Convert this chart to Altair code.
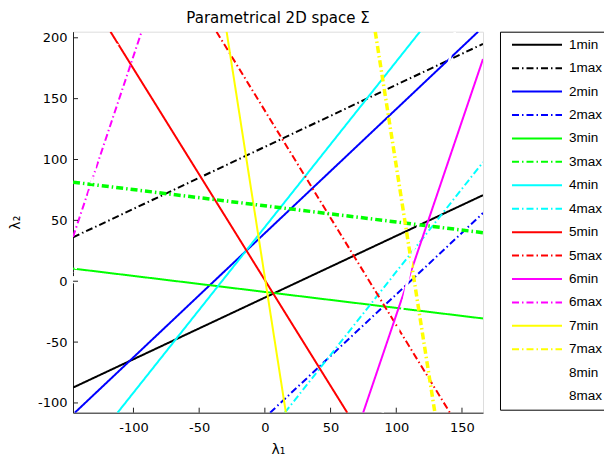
import altair as alt
import pandas as pd

names = ["1min", "1max", "2min", "2max", "3min", "3max", "4min", "4max",
         "5min", "5max", "6min", "6max", "7min", "7max", "8min", "8max"]
colors = ["#000000", "#000000", "#0000ff", "#0000ff", "#00ff00", "#00ff00",
          "#00ffff", "#00ffff", "#ff0000", "#ff0000", "#ff00ff", "#ff00ff",
          "#ffff00", "#ffff00", "#ffffff", "#ffffff"]
x_start = [-146, -146, -144.6, 4.0, -146, -146, -112.1, 15.2,
           -117.5, -36.8, 74.8, -146, -29.1, 84.0, 89.6, -146]
y_start = [-87.4, 36.0, -108, -108, 10.4, 81.4, -108, -108,
           205, 205, -108, 36.3, 205, 205, -108, -1.6]
x_end = [166, 166, 162.3, 166, 166, 166, 118.0, 166,
         62.7, 140.8, 166, -93.8, 16.0, 129.4, 144.6, -110.4]
y_end = [70.7, 195.0, 205, 56.0, -30.6, 39.9, 205, 97.8,
         -108, -108, 182.5, 205, -108, -108, 205, 205]
thick = ["3max", "7max"]
white = ["8min", "8max"]

x_ticks = [-100, -50, 0, 50, 100, 150]
y_ticks = [-100, -50, 0, 50, 100, 150, 200]
x_domain = [-146, 166]
y_domain = [-108, 205]

dashes = [[1, 0] if n.endswith("min") else [7, 3, 1.5, 3] for n in names]

rows = []
for n, xs, ys, xe, ye in zip(names, x_start, y_start, x_end, y_end):
    rows.append({"series": n, "x": xs, "y": ys, "o": 0})
    rows.append({"series": n, "x": xe, "y": ye, "o": 1})
df = pd.DataFrame(rows)

W, H = 410, 381
FONT = "DejaVu Sans"
LFONT = "Liberation Sans"
MINUS = "replace(datum.label, '\u2212', '-')"

xs = alt.Scale(domain=x_domain, nice=False, zero=False)
ys = alt.Scale(domain=y_domain, nice=False, zero=False)

color = alt.Color("series:N", scale=alt.Scale(domain=names, range=colors),
                  title=None,
                  legend=alt.Legend(orient="right", offset=17, symbolType="stroke",
                                    symbolSize=2500, symbolStrokeWidth=2,
                                    clipHeight=14, rowPadding=9.43, padding=6,
                                    symbolOffset=5, labelOffset=6,
                                    labelFontSize=13.5, labelFont=LFONT,
                                    labelColor="black",
                                    strokeColor="black", fillColor="white"))
dash = alt.StrokeDash("series:N", scale=alt.Scale(domain=names, range=dashes),
                      title=None)

xenc = alt.X("x:Q", scale=xs,
             axis=alt.Axis(values=x_ticks, title="λ₁", tickSize=0, grid=False,
                           labelExpr=MINUS,
                           labelFontSize=13, labelFont=FONT, labelColor="black",
                           labelPadding=9, titleFont=FONT, titleFontSize=14,
                           titleFontWeight="normal", titleColor="black",
                           titlePadding=8, domainColor="#222222"))
yenc = alt.Y("y:Q", scale=ys,
             axis=alt.Axis(values=y_ticks, title="λ₂", tickSize=0, grid=False,
                           labelExpr=MINUS,
                           labelFontSize=13, labelFont=FONT, labelColor="black",
                           labelPadding=6, titleFont=FONT, titleFontSize=14,
                           titleFontWeight="normal", titleColor="black",
                           titlePadding=15, domainColor="#222222"))

base = alt.Chart(df)
normal = base.transform_filter(
    alt.FieldOneOfPredicate(field="series",
                            oneOf=[n for n in names if n not in thick + white])
).mark_line(strokeWidth=2, clip=True).encode(
    x=xenc, y=yenc, color=color, strokeDash=dash, order="o:Q", detail="series:N")
heavy = base.transform_filter(
    alt.FieldOneOfPredicate(field="series", oneOf=thick)
).mark_line(strokeWidth=3.5, clip=True).encode(
    x="x:Q", y="y:Q", color=color, strokeDash=dash, order="o:Q", detail="series:N")
whites = base.transform_filter(
    alt.FieldOneOfPredicate(field="series", oneOf=white)
).mark_line(strokeWidth=2.5, clip=True, color="#ffffff").encode(
    x="x:Q", y="y:Q", strokeDash=dash, order="o:Q", detail="series:N")

xt = alt.Chart(pd.DataFrame({"x": x_ticks})).mark_rule(color="#222222", strokeWidth=1).encode(
    x="x:Q", y=alt.value(H), y2=alt.value(H - 5))
yt = alt.Chart(pd.DataFrame({"y": y_ticks})).mark_rule(color="#222222", strokeWidth=1).encode(
    y="y:Q", x=alt.value(0), x2=alt.value(5))

chart = alt.layer(normal, heavy, whites, xt, yt).properties(
    width=W, height=H,
    title=alt.TitleParams("Parametrical 2D space Σ", font=FONT, fontSize=15,
                          fontWeight="normal", color="black", offset=5),
    autosize=alt.AutoSizeParams(type="none"),
    padding={"left": 65, "top": 23.7, "right": 121, "bottom": 44},
).configure_view(fill="#e5e5e5", stroke="transparent").configure(background="white")

chart.save("out.html", embed_options={"renderer": "svg", "actions": False})
